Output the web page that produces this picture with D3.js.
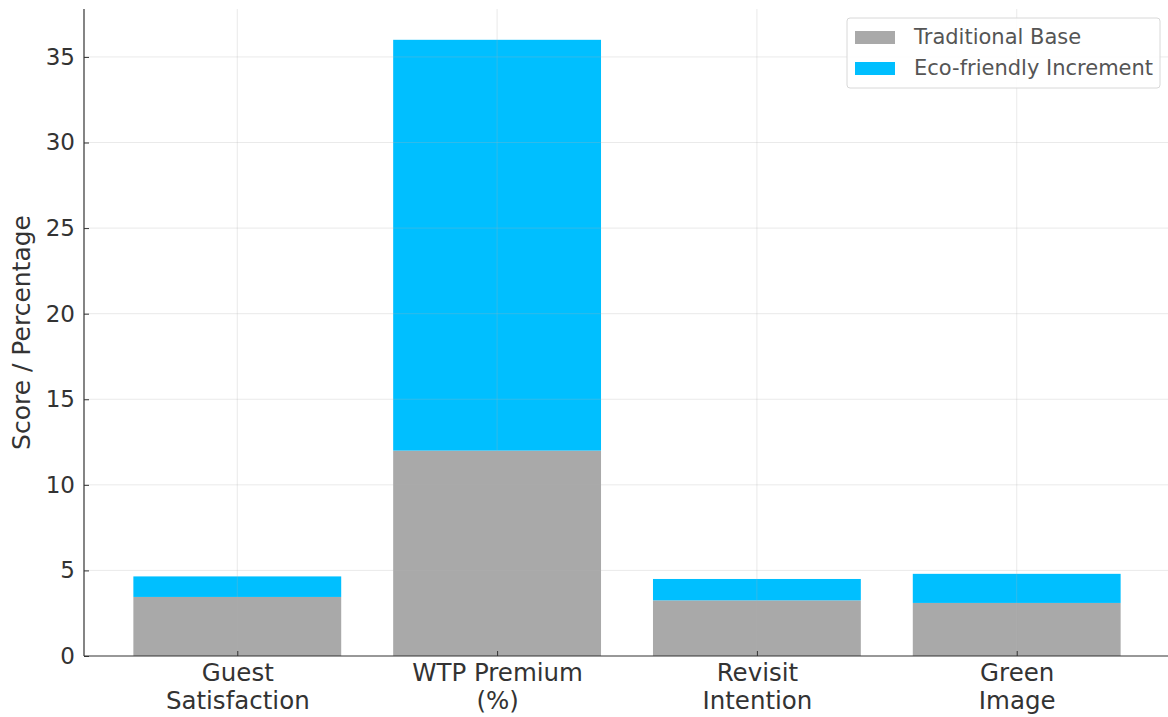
<!DOCTYPE html>
<html>
<head>
<meta charset="utf-8">
<script src="https://cdn.jsdelivr.net/npm/d3@7"></script>
<style>
  body { margin: 0; background: #fff; }
  svg { display: block; font-family: "DejaVu Sans", sans-serif; }
</style>
</head>
<body>
<svg id="chart" width="1168" height="717"></svg>
<script>
// Categories (two-line labels) and stacked series
const categories = ["Guest\nSatisfaction", "WTP Premium\n(%)", "Revisit\nIntention", "Green\nImage"];
const traditionalBase = [3.45, 12, 3.25, 3.1];
const ecoIncrement = [1.2, 24, 1.25, 1.7];
const seriesNames = ["Traditional Base", "Eco-friendly Increment"];
const seriesColors = ["#A9A9A9", "#00BFFF"];
const yTicks = [0, 5, 10, 15, 20, 25, 30, 35];

const svg = d3.select("#chart");
const margin = { left: 84, right: -2, top: 9, bottom: 61 };
const W = 1168, H = 717;
const plotW = W - margin.left - margin.right;
const plotH = H - margin.top - margin.bottom;

const g = svg.append("g").attr("transform", `translate(${margin.left},${margin.top})`);

// Continuous x over category index with padding like a bar plot
const x = d3.scaleLinear().domain([-0.59, 3.59]).range([0, plotW]);
const barW = x(0.8) - x(0);

const totals = traditionalBase.map((b, i) => b + ecoIncrement[i]);
const y = d3.scaleLinear().domain([0, d3.max(totals) * 1.05]).range([plotH, 0]);

const rows = categories.map((c, i) => ({ i, base: traditionalBase[i], inc: ecoIncrement[i] }));

// Stacked bars
g.selectAll("rect.base").data(rows).join("rect")
  .attr("class", "base")
  .attr("x", d => x(d.i) - barW / 2)
  .attr("width", barW)
  .attr("y", d => y(d.base))
  .attr("height", d => y(0) - y(d.base))
  .attr("fill", seriesColors[0]);

g.selectAll("rect.inc").data(rows).join("rect")
  .attr("class", "inc")
  .attr("x", d => x(d.i) - barW / 2)
  .attr("width", barW)
  .attr("y", d => y(d.base + d.inc))
  .attr("height", d => y(d.base) - y(d.base + d.inc))
  .attr("fill", seriesColors[1]);

// Grid lines over the bars
const grid = g.append("g").attr("stroke", "#b0b0b0").attr("stroke-opacity", 0.3).attr("stroke-width", 0.9);
grid.selectAll("line.h").data(yTicks.filter(t => t > 0)).join("line")
  .attr("x1", 0).attr("x2", plotW)
  .attr("y1", d => y(d)).attr("y2", d => y(d));
grid.selectAll("line.v").data(rows).join("line")
  .attr("x1", d => x(d.i)).attr("x2", d => x(d.i))
  .attr("y1", 0).attr("y2", plotH);

// Y axis
const yAxis = g.append("g")
  .call(d3.axisLeft(y).tickValues(yTicks).tickSize(-5).tickPadding(9).tickFormat(d3.format("d")));
yAxis.select(".domain").attr("stroke", "#333").attr("stroke-width", 1.2).attr("d", `M0,${plotH}V0`);
yAxis.selectAll(".tick line").attr("stroke", "#333");
yAxis.selectAll(".tick text").attr("font-size", 23).attr("fill", "#333")
  .attr("font-family", "DejaVu Sans, sans-serif");

// X axis
const xAxis = g.append("g").attr("transform", `translate(0,${plotH})`)
  .call(d3.axisBottom(x).tickValues(d3.range(categories.length)).tickSize(-5).tickFormat(() => ""));
xAxis.select(".domain").attr("stroke", "#333").attr("stroke-width", 1.2).attr("d", `M0,0H${plotW}`);
xAxis.selectAll(".tick line").attr("stroke", "#333");
xAxis.selectAll(".tick").each(function (d) {
  const lines = categories[d].split("\n");
  const t = d3.select(this).append("text")
    .attr("text-anchor", "middle")
    .attr("fill", "#333")
    .attr("font-size", 24.5)
    .attr("font-family", "DejaVu Sans, sans-serif");
  lines.forEach((ln, k) => {
    t.append("tspan").attr("x", 0).attr("y", 25 + k * 28).text(ln);
  });
});

// Y-axis title
svg.append("text")
  .attr("transform", `translate(30,${margin.top + plotH / 2}) rotate(-90)`)
  .attr("text-anchor", "middle")
  .attr("font-size", 25)
  .attr("fill", "#333")
  .text("Score / Percentage");

// Legend
const legend = svg.append("g").attr("transform", "translate(847,18)");
legend.append("rect")
  .attr("width", 313).attr("height", 70).attr("rx", 3)
  .attr("fill", "#fff").attr("fill-opacity", 0.85)
  .attr("stroke", "#d8d8d8");
seriesNames.forEach((name, k) => {
  const row = legend.append("g").attr("transform", `translate(8,${19 + k * 31})`);
  row.append("rect").attr("x", 0).attr("y", -6).attr("width", 40).attr("height", 13).attr("fill", seriesColors[k]);
  row.append("text").attr("x", 59).attr("y", 7).attr("font-size", 21).attr("fill", "#555").text(name);
});
</script>
</body>
</html>
